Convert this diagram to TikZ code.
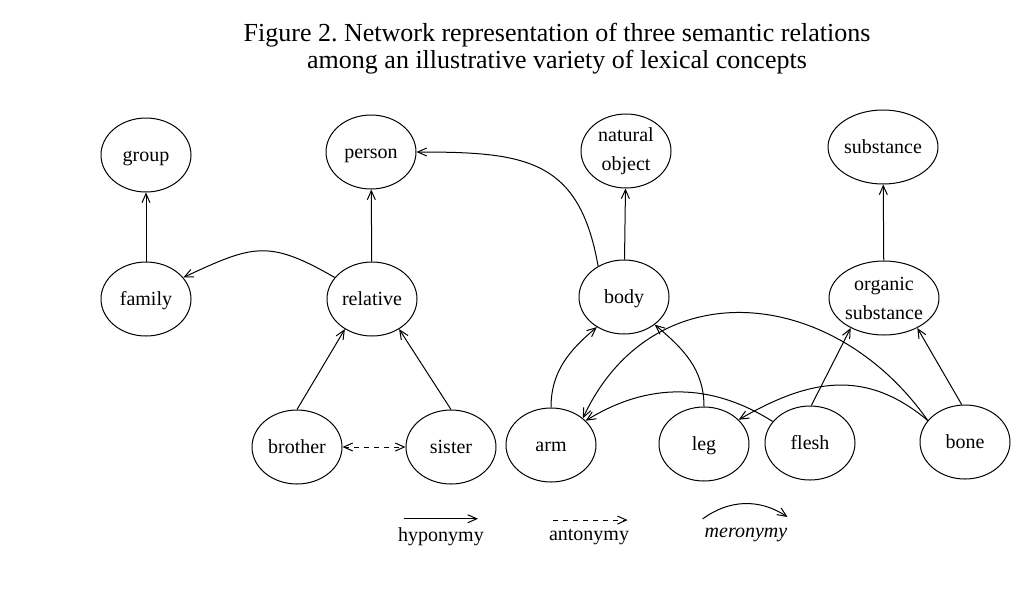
\documentclass[tikz,border=0pt]{standalone}
\usepackage{fontspec}
\setmainfont{Liberation Serif}
\usetikzlibrary{arrows.meta,positioning,shapes.geometric}

\begin{document}
\begin{tikzpicture}[
  x=0.5pt, y=0.5pt,
  font=\fontsize{10}{14.5}\selectfont,
  line width=0.5pt,
  concept/.style={draw, ellipse, align=center, inner sep=0pt,
                  minimum width=45pt, minimum height=37pt},
  word/.style={concept, text height=7.6pt, text depth=1.4pt},
  hypo/.style={-{Straight Barb[length=4.5pt,width=4pt]}},
  anto/.style={{Straight Barb[length=4.5pt,width=4pt]}-{Straight Barb[length=4.5pt,width=4pt]},
               dash pattern=on 2.5pt off 2.5pt},
  mero/.style={-{Straight Barb[length=4.5pt,width=4pt]}}
]
  \useasboundingbox (0,0) rectangle (1033,-590);
  \node[align=center, font=\fontsize{13}{13.5}\selectfont] (title) at (557,-49)
    {Figure 2.\ Network representation of three semantic relations\\
     among an illustrative variety of lexical concepts};

  \node[word] (group) at (146,-155) {group};
  \node[word] (person) at (371,-152) {person};
  \node[concept] (natural) at (626,-151) {natural\\ object};
  \node[word] (substance) at (883,-147) {substance};
  \node[word] (family) at (146,-299) {family};
  \node[word] (relative) at (372,-299) {relative};
  \node[word] (body) at (624,-297) {body};
  \node[concept] (organic) at (884,-298) {organic\\ substance};
  \node[word] (brother) at (297,-447) {brother};
  \node[word] (sister) at (451,-447) {sister};
  \node[word] (arm) at (551,-445) {arm};
  \node[word] (leg) at (704,-444) {leg};
  \node[word] (flesh) at (810,-443) {flesh};
  \node[word] (bone) at (965,-442) {bone};

  \node (hypolab) at (441,-537) {hyponymy};
  \node (antolab) at (589,-537) {antonymy};
  \node[font=\fontsize{10}{14.5}\selectfont\itshape] (merolab) at (746,-535) {meronymy};

  \draw[hypo] (family) -- (group);
  \draw[hypo] (relative) -- (person);
  \draw[hypo] (body) -- (natural);
  \draw[hypo] (organic) -- (substance);
  \draw[hypo] (brother.north) -- (relative.228);
  \draw[hypo] (sister.north) -- (relative.-48);
  \draw[hypo] (flesh.88) -- (organic.222);
  \draw[hypo] (bone.95) -- (organic.-42);
  \draw[anto] (brother) -- (sister);

  \draw[mero] (relative.150) to[out=150, in=25, looseness=1.3] (family.30);
  \draw[mero] (body.130) to[out=100, in=0, looseness=1.3] (person.east);
  \draw[mero] (arm.north) to[out=90, in=220] (body.228);
  \draw[mero] (leg.north) to[out=90, in=-40] (body.-42);
  \draw[mero] (flesh.150) to[bend right=32] (arm.35);
  \draw[mero] (bone.150) to[out=125, in=65, looseness=1.22] (arm.40);
  \draw[mero] (bone.150) to[out=140, in=30, looseness=1.1] (leg.35);

  \draw[hypo] ([xshift=6.5pt,yshift=1pt]hypolab.north west)
    -- ([xshift=-6.5pt,yshift=1pt]hypolab.north east);
  \draw[anto, {}-{Straight Barb[length=4.5pt,width=4pt]}]
    ([xshift=5.75pt,yshift=1pt]antolab.north west)
    -- ([xshift=-4.25pt,yshift=1pt]antolab.north east);
  \draw[mero] ([xshift=2.5pt,yshift=1pt]merolab.north west)
    to[bend left=35] ([xshift=-3.5pt,yshift=2pt]merolab.north east);
\end{tikzpicture}
\end{document}
